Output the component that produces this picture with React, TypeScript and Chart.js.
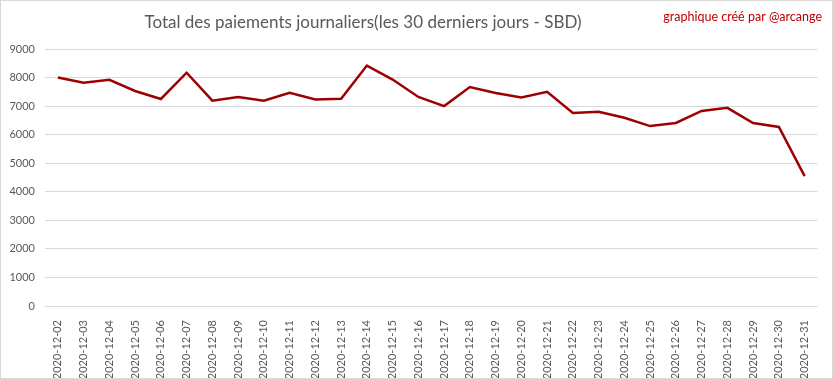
import React, { useEffect, useRef } from "react";
import { Chart, registerables } from "chart.js";

Chart.register(...registerables);

const categories = [
  "2020-12-02", "2020-12-03", "2020-12-04", "2020-12-05", "2020-12-06",
  "2020-12-07", "2020-12-08", "2020-12-09", "2020-12-10", "2020-12-11",
  "2020-12-12", "2020-12-13", "2020-12-14", "2020-12-15", "2020-12-16",
  "2020-12-17", "2020-12-18", "2020-12-19", "2020-12-20", "2020-12-21",
  "2020-12-22", "2020-12-23", "2020-12-24", "2020-12-25", "2020-12-26",
  "2020-12-27", "2020-12-28", "2020-12-29", "2020-12-30", "2020-12-31",
];

const payments = [
  8000, 7820, 7920, 7530, 7250, 8170, 7190, 7320, 7190, 7470,
  7230, 7260, 8420, 7930, 7320, 7000, 7670, 7460, 7300, 7500,
  6760, 6800, 6590, 6300, 6410, 6830, 6940, 6410, 6270, 4550,
];

const titleText = "Total des paiements journaliers(les 30 derniers jours - SBD)";
const creditText = "graphique créé par @arcange";
const yMin = 0;
const yMax = 9000;
const yStep = 1000;

const FONT = "Lato, 'Open Sans', sans-serif";

const decorPlugin = {
  id: "decor",
  afterDraw(chart: any) {
    const ctx = chart.ctx;
    ctx.save();
    ctx.strokeStyle = "#d9d9d9";
    ctx.lineWidth = 1;
    ctx.strokeRect(0.5, 0.5, chart.width - 1, chart.height - 1);
    ctx.fillStyle = "#595959";
    ctx.font = `17px ${FONT}`;
    ctx.textAlign = "center";
    ctx.textBaseline = "middle";
    ctx.fillText(titleText, 363, 23);
    ctx.fillStyle = "#c00000";
    ctx.font = `12.5px ${FONT}`;
    ctx.textAlign = "right";
    ctx.fillText(creditText, 822, 17);
    ctx.restore();
  },
};

export default function App() {
  const ref = useRef<HTMLCanvasElement>(null);
  useEffect(() => {
    document.body.style.margin = "0";
    const chart = new Chart(ref.current!, {
      type: "line",
      data: {
        labels: categories,
        datasets: [
          {
            data: payments,
            borderColor: "#9e0000",
            borderWidth: 2.5,
            pointRadius: 0,
            tension: 0,
            fill: false,
          },
        ],
      },
      options: {
        responsive: false,
        animation: false,
        layout: { padding: { top: 49, right: 15.5, left: 0, bottom: 0 } },
        plugins: { legend: { display: false }, tooltip: { enabled: false }, title: { display: false } },
        scales: {
          x: {
            offset: true,
            grid: { display: false },
            border: { display: false },
            ticks: {
              color: "#595959",
              font: { family: FONT, size: 11 },
              maxRotation: 90,
              minRotation: 90,
              padding: 6,
              autoSkip: false,
            },
            afterFit(scale: any) {
              scale.height = 73;
            },
          },
          y: {
            min: yMin,
            max: yMax,
            grid: { color: "#d9d9d9", drawTicks: false, lineWidth: 1 },
            border: { display: false },
            ticks: {
              stepSize: yStep,
              color: "#595959",
              font: { family: FONT, size: 11 },
              padding: 10,
              callback: (v: any) => String(v),
            },
            afterFit(scale: any) {
              scale.width = 45;
            },
          },
        },
      },
      plugins: [decorPlugin],
    });
    return () => chart.destroy();
  }, []);
  return (
    <div style={{ width: 833, height: 379 }}>
      <canvas ref={ref} width={833} height={379} style={{ display: "block" }} />
    </div>
  );
}
